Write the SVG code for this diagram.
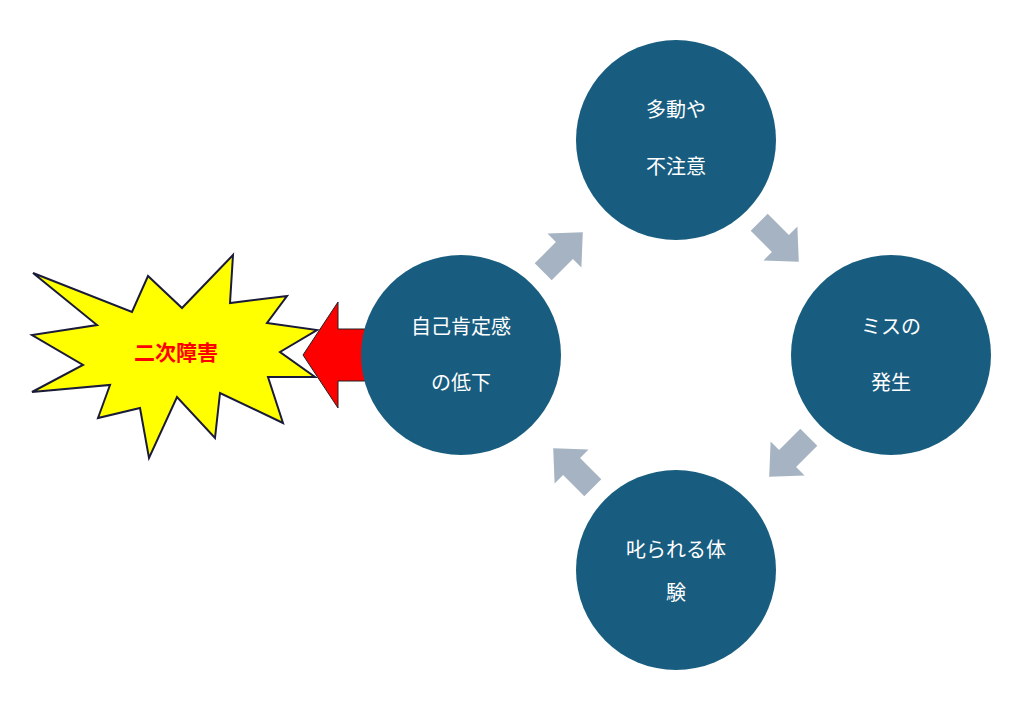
<svg xmlns="http://www.w3.org/2000/svg" width="1024" height="701" viewBox="0 0 1024 701">
<style>
.c{fill:#185d7f}
.t{fill:#fff;font-family:"Noto Sans CJK JP",sans-serif;font-size:20px;text-anchor:middle}
.a{fill:#a6b3c2}
</style>
<defs><path id="arr" d="M-28,-12 H2 V-24 L28,0 L2,24 V12 H-28 Z"/></defs>
<rect width="1024" height="701" fill="#fff"/>
<g id="connectors">
<use href="#arr" class="a" transform="translate(563,252) rotate(-45)"/>
<use href="#arr" class="a" transform="translate(779,242) rotate(45)"/>
<use href="#arr" class="a" transform="translate(789,457) rotate(135)"/>
<use href="#arr" class="a" transform="translate(573,468) rotate(-135)"/>
<path d="M303,355 L338,302 V329 H377 V381 H338 V408 Z" fill="#f00" stroke="#222" stroke-width="1"/>
</g>
<g id="burst">
<polygon points="33,273 132,312 148,276 182,308 233,255 230,303 287,296 267,323 317,330 280,352 315,377 268,377 283,423 220,393 215,438 177,397 149,458 140,408 98,418 110,385 32,392 83,365 32,335 97,325" fill="#ffff00" stroke="#1a1a3a" stroke-width="2"/>
<text x="176" y="360" fill="#f00" font-family="Noto Sans CJK JP,sans-serif" font-size="21" font-weight="bold" text-anchor="middle">二次障害</text>
</g>
<g id="n1"><circle class="c" cx="676" cy="140" r="100"/><text class="t" x="676" y="117">多動や</text><text class="t" x="676" y="174">不注意</text></g>
<g id="n2"><circle class="c" cx="891" cy="355" r="100"/><text class="t" x="891" y="334">ミスの</text><text class="t" x="891" y="390">発生</text></g>
<g id="n3"><circle class="c" cx="676" cy="570" r="100"/><text class="t" x="676" y="557">叱られる体</text><text class="t" x="676" y="600">験</text></g>
<g id="n4"><circle class="c" cx="461" cy="355" r="100"/><text class="t" x="461" y="334">自己肯定感</text><text class="t" x="461" y="390">の低下</text></g>
</svg>
